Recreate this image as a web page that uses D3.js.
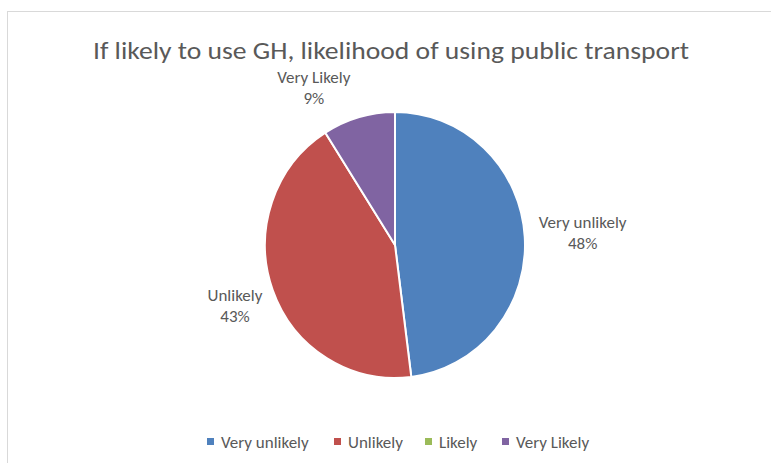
<!DOCTYPE html>
<html>
<head>
<meta charset="utf-8">
<script src="https://cdn.jsdelivr.net/npm/d3@7"></script>
<style>
  html, body { margin: 0; padding: 0; background: #fff; }
  svg { display: block; }
  text { font-family: Carlito, Lato, "Open Sans", sans-serif; fill: #595959; }
</style>
</head>
<body>
<svg id="chart" width="771" height="463"></svg>
<script>
const title = "If likely to use GH, likelihood of using public transport";
const categories = ["Very unlikely", "Unlikely", "Likely", "Very Likely"];
const shares = [48, 43, 0, 9];
const colors = ["#4F81BD", "#C0504D", "#9BBB59", "#8064A2"];

const svg = d3.select("#chart");
const W = 771, H = 463;

// chart area frame
svg.append("rect")
  .attr("x", 7.5).attr("y", 11.5)
  .attr("width", W).attr("height", H)
  .attr("fill", "#fff").attr("stroke", "#d9d9d9").attr("stroke-width", 1);

svg.append("text")
  .attr("x", 391).attr("y", 59)
  .attr("text-anchor", "middle")
  .attr("font-size", 24)
  .attr("textLength", 596).attr("lengthAdjust", "spacingAndGlyphs")
  .text(title);

const data = categories.map((c, i) => ({ cat: c, value: shares[i], color: colors[i] }));

const cx = 395, cy = 245, r = 130, sy = 133 / 130;

const pie = d3.pie().value(d => d.value).sort(null);
const arcs = pie(data);
const arc = d3.arc().innerRadius(0).outerRadius(r);

const g = svg.append("g").attr("transform", `translate(${cx},${cy}) scale(1,${sy})`);
g.selectAll("path")
  .data(arcs.filter(a => a.data.value > 0))
  .join("path")
  .attr("d", arc)
  .attr("fill", d => d.data.color)
  .attr("stroke", "#fff")
  .attr("stroke-width", 2)
  .attr("vector-effect", "non-scaling-stroke");

// data labels placed just outside the pie edge
const labelArc = d3.arc().innerRadius(r * 1.3).outerRadius(r * 1.3);
const labelOffsets = {
  "Very unlikely": [ 19, -6 ],
  "Unlikely": [ -1, -3 ],
  "Very Likely": [ -34, 4 ]
};
const labels = svg.append("g");
arcs.filter(a => a.data.value > 0).forEach(a => {
  const [lx, ly] = labelArc.centroid(a);
  const off = labelOffsets[a.data.cat] || [0, 0];
  const x = cx + lx + off[0];
  const y = cy + ly * sy + off[1];
  const t = labels.append("text")
    .attr("x", x).attr("y", y)
    .attr("text-anchor", "middle")
    .attr("font-size", 17);
  t.append("tspan").attr("x", x).attr("dy", 0).text(a.data.cat);
  t.append("tspan").attr("x", x).attr("dy", 21).text(d3.format(".0f")(a.data.value) + "%");
});

// legend
const legendX = [207, 334, 425, 502];
const legend = svg.append("g");
data.forEach((d, i) => {
  legend.append("rect")
    .attr("x", legendX[i]).attr("y", 438)
    .attr("width", 7).attr("height", 7)
    .attr("fill", d.color);
  legend.append("text")
    .attr("x", legendX[i] + 14).attr("y", 448)
    .attr("font-size", 17)
    .text(d.cat);
});
</script>
</body>
</html>
